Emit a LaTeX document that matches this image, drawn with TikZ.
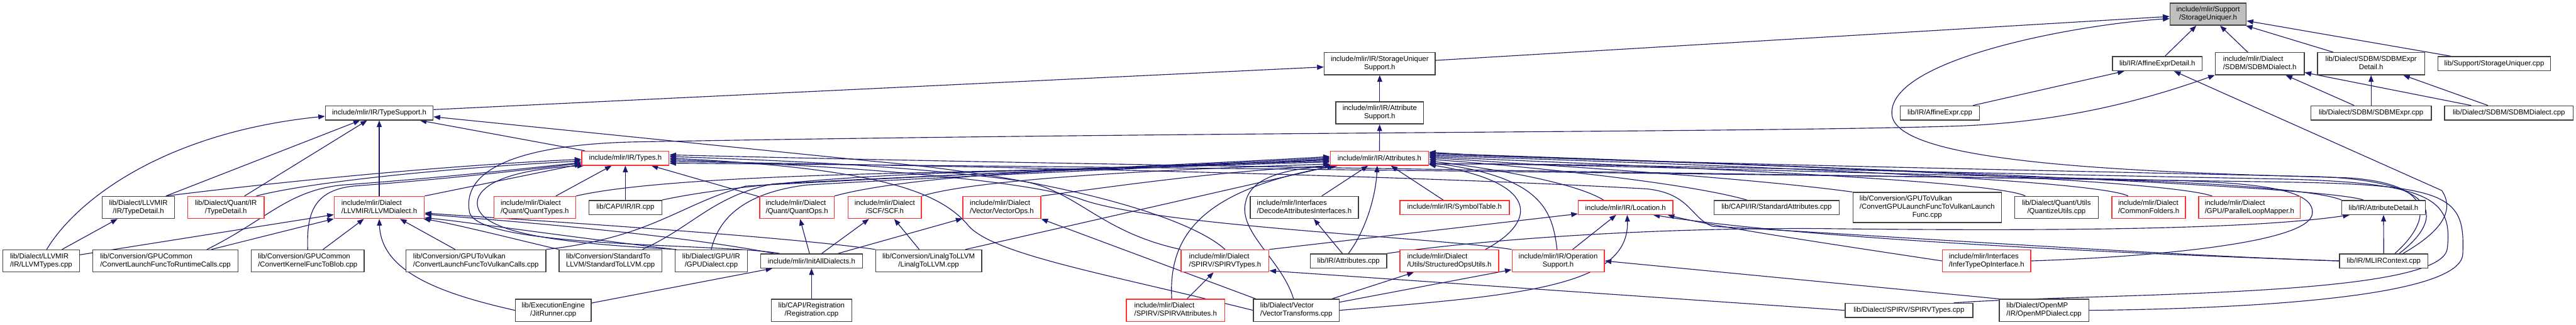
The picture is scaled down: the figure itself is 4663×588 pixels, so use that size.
\documentclass[tikz,border=0pt]{standalone}
\usepackage{fontspec}
\setmainfont{Liberation Sans}
\usetikzlibrary{arrows.meta,calc}
\pgfdeclarelayer{bg}
\pgfsetlayers{bg,main}
\definecolor{edgec}{HTML}{191970}
\definecolor{rootfill}{HTML}{BFBFBF}
\definecolor{nodeline}{HTML}{404040}
\definecolor{nodered}{HTML}{FF3030}
\newcommand{\TL}[2]{\begin{tabular}{@{}l@{}}#1\\\multicolumn{1}{@{}c@{}}{#2}\end{tabular}}
\newcommand{\TLL}[3]{\begin{tabular}{@{}l@{}}#1\\#2\\\multicolumn{1}{@{}c@{}}{#3}\end{tabular}}
\tikzset{
  nb/.style={draw=nodeline, line width=1.6pt, fill=white, inner sep=0pt, font=\fontsize{13}{15}\selectfont, minimum height=25.5pt},
  nr/.style={nb, draw=nodered},
  l2/.style={minimum height=40pt},
  l3/.style={minimum height=54.5pt},
  mw/.style={minimum width=#1pt},
  inc/.style={draw=edgec, line width=1.3pt, -{Triangle[length=12pt,width=9pt]}},
}
\begin{document}
\begin{tikzpicture}[x=1pt,y=1pt]
\useasboundingbox (0,0) rectangle (4663,-588);
% row 0
\node[nb,l2,fill=rootfill,mw=138] (su) at (3997,-25.7) {\TL{include/mlir/Support}{/StorageUniquer.h}};
% row 1
\node[nb,l2,mw=201] (sus) at (2497.5,-115.3) {\TL{include/mlir/IR/StorageUniquer}{Support.h}};
\node[nb,mw=162] (aed) at (3905,-115.3) {lib/IR/AffineExprDetail.h};
\node[nb,l2,mw=161] (sdbmh) at (4090.5,-115.3) {\TL{include/mlir/Dialect}{/SDBM/SDBMDialect.h}};
\node[nb,l2,mw=194] (sdbmed) at (4292,-115.3) {\TL{lib/Dialect/SDBM/SDBMExpr}{Detail.h}};
\node[nb,mw=204] (sucpp) at (4515,-115.3) {lib/Support/StorageUniquer.cpp};
% row 2
\node[nb,mw=195] (ts) at (686.5,-204.5) {include/mlir/IR/TypeSupport.h};
\node[nb,l2,mw=159] (as) at (2497.5,-204.5) {\TL{include/mlir/IR/Attribute}{Support.h}};
\node[nb,mw=143] (aecpp) at (3511.5,-204.5) {lib/IR/AffineExpr.cpp};
\node[nb,mw=218] (sdbmecpp) at (4292,-204.5) {lib/Dialect/SDBM/SDBMExpr.cpp};
\node[nb,mw=233] (sdbmdcpp) at (4541.5,-204.5) {lib/Dialect/SDBM/SDBMDialect.cpp};
% row 3
\node[nr,mw=158] (types) at (1132,-286.5) {include/mlir/IR/Types.h};
\node[nr,mw=178] (attrs) at (2497,-286.5) {include/mlir/IR/Attributes.h};
% row 4
\node[nb,l2,mw=131] (lltd) at (250.5,-375.7) {\TL{lib/Dialect/LLVMIR}{/IR/TypeDetail.h}};
\node[nr,l2,mw=138] (qtd) at (409,-375.7) {\TL{lib/Dialect/Quant/IR}{/TypeDetail.h}};
\node[nr,l2,mw=163] (llvmd) at (686.5,-375.7) {\TL{include/mlir/Dialect}{/LLVMIR/LLVMDialect.h}};
\node[nr,l2,mw=148] (qtypes) at (968,-375.7) {\TL{include/mlir/Dialect}{/Quant/QuantTypes.h}};
\node[nb,mw=132] (ircpp) at (1132,-375.7) {lib/CAPI/IR/IR.cpp};
\node[nr,l2,mw=135] (qops) at (1442.5,-375.7) {\TL{include/mlir/Dialect}{/Quant/QuantOps.h}};
\node[nr,l2,mw=133] (scf) at (1601.5,-375.7) {\TL{include/mlir/Dialect}{/SCF/SCF.h}};
\node[nr,l2,mw=141] (vops) at (1813.5,-375.7) {\TL{include/mlir/Dialect}{/Vector/VectorOps.h}};
\node[nb,l2,mw=196] (dai) at (2361,-375.7) {\TL{include/mlir/Interfaces}{/DecodeAttributesInterfaces.h}};
\node[nr,mw=198] (symt) at (2633,-375.7) {include/mlir/IR/SymbolTable.h};
\node[nr,mw=171] (loc) at (2942.5,-375.7) {include/mlir/IR/Location.h};
\node[nb,mw=226] (stdattr) at (3216,-375.7) {lib/CAPI/IR/StandardAttributes.cpp};
\node[nb,l3,mw=269] (cgpuvk) at (3488.5,-375.7) {\TLL{lib/Conversion/GPUToVulkan}{/ConvertGPULaunchFuncToVulkanLaunch}{Func.cpp}};
\node[nb,l2,mw=151] (qutils) at (3722.5,-375.7) {\TL{lib/Dialect/Quant/Utils}{/QuantizeUtils.cpp}};
\node[nr,l2,mw=133] (cfold) at (3889.5,-375.7) {\TL{include/mlir/Dialect}{/CommonFolders.h}};
\node[nr,l2,mw=184] (plm) at (4072,-375.7) {\TL{include/mlir/Dialect}{/GPU/ParallelLoopMapper.h}};
\node[nb,mw=151] (adet) at (4314.5,-375.7) {lib/IR/AttributeDetail.h};
% row 5
\node[nb,l2,mw=139] (lltypes) at (74.5,-472.5) {\TL{lib/Dialect/LLVMIR}{/IR/LLVMTypes.cpp}};
\node[nb,l2,mw=263] (rtcalls) at (299.5,-472.5) {\TL{lib/Conversion/GPUCommon}{/ConvertLaunchFuncToRuntimeCalls.cpp}};
\node[nb,l2,mw=204] (blob) at (557,-472.5) {\TL{lib/Conversion/GPUCommon}{/ConvertKernelFuncToBlob.cpp}};
\node[nb,l2,mw=253] (vkcalls) at (861.5,-472.5) {\TL{lib/Conversion/GPUToVulkan}{/ConvertLaunchFuncToVulkanCalls.cpp}};
\node[nb,l2,mw=186] (std2llvm) at (1105,-472.5) {\TL{lib/Conversion/StandardTo}{LLVM/StandardToLLVM.cpp}};
\node[nb,l2,mw=131] (gpud) at (1287.5,-472.5) {\TL{lib/Dialect/GPU/IR}{/GPUDialect.cpp}};
\node[nb,mw=184] (initall) at (1469,-472.5) {include/mlir/InitAllDialects.h};
\node[nb,l2,mw=192] (linalg) at (1681,-472.5) {\TL{lib/Conversion/LinalgToLLVM}{/LinalgToLLVM.cpp}};
\node[nr,l2,mw=159] (spirvt) at (2217.5,-472.5) {\TL{include/mlir/Dialect}{/SPIRV/SPIRVTypes.h}};
\node[nb,mw=138] (attrcpp) at (2441,-472.5) {lib/IR/Attributes.cpp};
\node[nr,l2,mw=179] (sops) at (2623.5,-472.5) {\TL{include/mlir/Dialect}{/Utils/StructuredOpsUtils.h}};
\node[nr,l2,mw=167] (opsup) at (2820.5,-472.5) {\TL{include/mlir/IR/Operation}{Support.h}};
\node[nr,l2,mw=160] (infer) at (3596,-472.5) {\TL{include/mlir/Interfaces}{/InferTypeOpInterface.h}};
\node[nb,mw=160] (mlirctx) at (4315,-472.5) {lib/IR/MLIRContext.cpp};
% row 6
\node[nb,l2,mw=137] (jit) at (1001.5,-562) {\TL{lib/ExecutionEngine}{/JitRunner.cpp}};
\node[nb,l2,mw=146] (reg) at (1469,-562) {\TL{lib/CAPI/Registration}{/Registration.cpp}};
\node[nr,l2,mw=178] (spirva) at (2128,-562) {\TL{include/mlir/Dialect}{/SPIRV/SPIRVAttributes.h}};
\node[nb,l2,mw=155] (vtrans) at (2346.5,-562) {\TL{lib/Dialect/Vector}{/VectorTransforms.cpp}};
\node[nb,mw=231] (spirvtcpp) at (3455.5,-562) {lib/Dialect/SPIRV/SPIRVTypes.cpp};
\node[nb,l2,mw=162] (omp) at (3700,-562) {\TL{lib/Dialect/OpenMP}{/IR/OpenMPDialect.cpp}};

\begin{pgfonlayer}{bg}
\fill[white] (0,0) rectangle (4663,-588);
% StorageUniquer.h
\draw[inc] (sus) -- (su);
\draw[inc] (aed) -- (su);
\draw[inc] (sdbmh) -- (su);
\draw[inc] (sdbmed) -- (su);
\draw[inc] (sucpp) -- (su);
\draw[inc] ($(mlirctx.north)+(20,0)$) .. controls (4380,-420) and (4440,-335) .. (4250,-322) .. controls (3900,-312) and (3440,-300) .. (3425,-210) .. controls (3410,-110) and (3750,-45) .. ($(su.west)+(0,-8)$);
% StorageUniquerSupport.h
\draw[inc] ($(ts.east)+(0,6)$) -- ($(sus.west)+(0,-6)$);
\draw[inc] (as) -- (sus);
% AffineExprDetail.h
\draw[inc] (aecpp) -- (aed);
\draw[inc] ($(mlirctx.north)+(35,0)$) .. controls (4400,-430) and (4450,-390) .. (4420,-345) -- (aed);
% SDBMDialect.h
\draw[inc] (sdbmecpp) -- (sdbmh);
\draw[inc] (sdbmdcpp) -- (sdbmh);
\draw[inc] ($(initall.north west)+(35,0)$) .. controls (1300,-440) and (870,-450) .. (850,-385) .. controls (835,-310) and (930,-262) .. (1150,-257) .. controls (2200,-238) and (3200,-240) .. (3550,-228) .. controls (3750,-220) and (3900,-175) .. (sdbmh.south west);
% SDBMExprDetail.h
\draw[inc] (sdbmecpp) -- (sdbmed);
\draw[inc] (sdbmdcpp) -- (sdbmed);
% TypeSupport.h
\draw[inc] (types) -- (ts);
\draw[inc] ($(lltd.north)+(50,0)$) -- (ts);
\draw[inc] (qtd) -- (ts);
\draw[inc] (llvmd) -- (ts);
\draw[inc] ($(lltypes.north)+(10,0)$) .. controls (140,-360) and (300,-240) .. ($(ts.west)+(0,-6)$);
\draw[inc] (spirvt.north) .. controls (2150,-390) and (1900,-320) .. (1580,-292) -- ($(ts.east)+(0,-7)$);
% AttributeSupport.h
\draw[inc] (attrs) -- (as);
% Types.h left
\draw[inc] ($(lltd.north)+(50,0)$) .. controls (500,-330) and (800,-300) .. ($(types.west)+(0,-2)$);
\draw[inc] ($(qtd.north)+(55,0)$) .. controls (560,-330) and (800,-305) .. ($(types.west)+(0,-5)$);
\draw[inc] (llvmd.north east) -- ($(types.south west)+(0,3)$);
\draw[inc] ($(rtcalls.north)+(75,0)$) .. controls (480,-400) and (520,-345) .. (620,-335) .. controls (800,-322) and (950,-305) .. ($(types.west)+(0,-8)$);
\draw[inc] (blob.north) .. controls (555,-390) and (565,-345) .. (640,-337) .. controls (800,-325) and (950,-308) .. ($(types.west)+(0,-9)$);
\draw[inc] ($(gpud.north west)+(3,0)$) .. controls (1000,-440) and (850,-420) .. (865,-360) .. controls (880,-315) and (990,-303) .. ($(types.south west)+(5,0)$);
% Types.h bottom
\draw[inc] (qtypes) -- (types);
\draw[inc] (ircpp) -- (types);
\draw[inc] (qops) -- (types);
% Types.h right
\draw[inc] (spirvt.north west) .. controls (1990,-420) and (1950,-345) .. (1850,-328) .. controls (1650,-300) and (1400,-290) .. ($(types.east)+(0,3)$);
\draw[inc] (vtrans.west) .. controls (2000,-495) and (1790,-460) .. (1750,-405) .. controls (1700,-350) and (1600,-305) .. (types.east);
\draw[inc] (opsup.north west) .. controls (2600,-430) and (2100,-410) .. (1960,-362) .. controls (1860,-325) and (1500,-298) .. ($(types.east)+(0,-3)$);
\draw[inc] (adet.north west) .. controls (4200,-345) and (4000,-330) .. (3800,-325) .. controls (3000,-312) and (2000,-300) .. ($(types.east)+(0,6)$);
\draw[inc] (mlirctx.west) .. controls (3900,-462) and (3300,-420) .. (3100,-410) .. controls (3060,-395) and (3060,-350) .. (2980,-342) .. controls (2500,-315) and (1700,-300) .. ($(types.east)+(0,-6)$);
\draw[inc] (omp.east) .. controls (4000,-560) and (4455,-545) .. (4458,-460) .. controls (4462,-360) and (4440,-335) .. (4150,-330) .. controls (3200,-315) and (2000,-302) .. ($(types.east)+(0,-9)$);
% Attributes.h left
\draw[inc] (vkcalls.north east) .. controls (1180,-430) and (1230,-370) .. (1350,-337) .. controls (1800,-312) and (2200,-296) .. ($(attrs.west)+(0,3)$);
\draw[inc] ($(std2llvm.north)+(58,0)$) .. controls (1255,-410) and (1290,-355) .. (1400,-333) .. controls (1800,-312) and (2200,-298) .. ($(attrs.west)+(0,1)$);
\draw[inc] (gpud.north) .. controls (1300,-400) and (1340,-350) .. (1460,-335) .. controls (1800,-315) and (2200,-300) .. ($(attrs.west)+(0,-1)$);
\draw[inc] (qtypes.north east) .. controls (1150,-330) and (1400,-318) .. (1700,-312) .. controls (2000,-305) and (2250,-296) .. ($(attrs.west)+(0,-3)$);
\draw[inc] (ircpp.north east) .. controls (1300,-340) and (1500,-320) .. (1750,-312) .. controls (2050,-303) and (2250,-296) .. ($(attrs.west)+(0,-5)$);
\draw[inc] (qops.north east) .. controls (1600,-330) and (1800,-312) .. (2000,-306) .. controls (2200,-300) and (2300,-296) .. ($(attrs.west)+(0,-7)$);
\draw[inc] (scf.north east) .. controls (1750,-330) and (2000,-310) .. ($(attrs.south west)+(0,3)$);
\draw[inc] (vops.north east) .. controls (2000,-340) and (2200,-310) .. ($(attrs.south west)+(3,0)$);
\draw[inc] ($(linalg.north east)+(-30,0)$) -- ($(attrs.south west)+(7,0)$);
\draw[inc] ($(spirva.north)+(-7,0)$) .. controls (2115,-430) and (2170,-345) .. ($(attrs.south west)+(11,0)$);
\draw[inc] ($(vtrans.north)+(-5,0)$) .. controls (2320,-470) and (2240,-420) .. (2255,-365) .. controls (2265,-320) and (2330,-305) .. ($(attrs.south west)+(15,0)$);
% Attributes.h bottom
\draw[inc] (dai) -- (attrs);
\draw[inc] (attrcpp.north) .. controls (2470,-420) and (2490,-360) .. ($(attrs.south)+(-4,0)$);
\draw[inc] (symt) -- (attrs);
% Attributes.h right
\draw[inc] ($(sops.north east)+(-25,0)$) .. controls (2785,-400) and (2785,-330) .. ($(attrs.south east)+(0,2)$);
\draw[inc] ($(opsup.north)+(-2,0)$) .. controls (2810,-380) and (2790,-320) .. ($(attrs.east)+(0,-8)$);
\draw[inc] ($(loc.north)+(-40,0)$) .. controls (2850,-330) and (2700,-305) .. ($(attrs.east)+(0,-5)$);
\draw[inc] ($(stdattr.north west)+(60,0)$) .. controls (3050,-330) and (2750,-300) .. ($(attrs.east)+(0,-2)$);
\draw[inc] (cgpuvk.north west) .. controls (3150,-320) and (2750,-296) .. ($(attrs.east)+(0,1)$);
\draw[inc] ($(qutils.north west)+(20,0)$) .. controls (3600,-322) and (2800,-294) .. ($(attrs.east)+(0,3)$);
\draw[inc] ($(cfold.north west)+(30,0)$) .. controls (3780,-320) and (2900,-292) .. ($(attrs.east)+(0,5)$);
\draw[inc] ($(plm.north west)+(25,0)$) .. controls (3900,-320) and (3000,-292) .. ($(attrs.east)+(0,7)$);
\draw[inc] ($(adet.north west)+(40,0)$) .. controls (4200,-335) and (3200,-298) .. ($(attrs.east)+(0,9)$);
\draw[inc] ($(mlirctx.north)+(28,0)$) .. controls (4420,-400) and (4430,-330) .. (4200,-320) .. controls (3300,-300) and (2800,-290) .. ($(attrs.east)+(0,11)$);
\draw[inc] (infer.east) .. controls (3900,-465) and (4170,-440) .. (4185,-390) .. controls (4195,-345) and (4100,-330) .. (3900,-326) .. controls (3300,-312) and (2800,-296) .. ($(attrs.east)+(0,-10)$);
\draw[inc] ($(spirvtcpp.north east)+(-35,0)$) .. controls (3800,-530) and (4420,-540) .. (4430,-450) .. controls (4440,-360) and (4400,-330) .. (4120,-324) .. controls (3300,-308) and (2800,-294) .. ($(attrs.east)+(0,-11)$);
% Location.h
\draw[inc] (opsup) -- (loc);
\draw[inc] (vtrans.east) .. controls (2750,-535) and (2950,-520) .. ($(loc.south)+(3,0)$);
\draw[inc] (mlirctx.west) .. controls (3800,-458) and (3250,-430) .. ($(loc.south)+(50,0)$);
\draw[inc] (infer.west) .. controls (3300,-440) and (3100,-410) .. ($(loc.south east)+(-10,0)$);
\draw[inc] (spirvt.north east) -- ($(loc.south west)+(0,2)$);
% OperationSupport.h
\draw[inc] (vtrans) -- (opsup);
\draw[inc] (omp.north west) -- (opsup.east);
% StructuredOpsUtils.h
\draw[inc] (vtrans) -- (sops);
% VectorOps.h
\draw[inc] ($(vtrans.north west)+(5,0)$) -- (vops.south east);
\draw[inc] (initall) -- (vops);
% SCF.h
\draw[inc] (initall) -- (scf);
\draw[inc] (linalg) -- (scf);
% QuantOps.h
\draw[inc] (initall) -- (qops);
% InitAllDialects.h
\draw[inc] (reg) -- (initall);
\draw[inc] (jit) -- (initall);
% LLVMDialect.h
\draw[inc] (lltypes) -- (llvmd);
\draw[inc] (rtcalls) -- (llvmd);
\draw[inc] (blob) -- (llvmd);
\draw[inc] (jit.west) .. controls (790,-530) and (690,-490) .. (llvmd.south);
\draw[inc] (vkcalls) -- (llvmd);
\draw[inc] (std2llvm.north west) .. controls (920,-430) and (820,-405) .. ($(llvmd.south east)+(-2,0)$);
\draw[inc] (gpud.north west) .. controls (1000,-425) and (830,-400) .. ($(llvmd.south east)+(0,2)$);
\draw[inc] ($(initall.north west)+(25,0)$) .. controls (1200,-420) and (850,-395) .. ($(llvmd.east)+(0,-12)$);
\draw[inc] (linalg.north west) .. controls (1400,-425) and (850,-392) .. ($(llvmd.east)+(0,-10)$);
% LLVMIR TypeDetail.h
\draw[inc] (lltypes) -- (lltd);
% SPIRVTypes.h
\draw[inc] (spirva) -- (spirvt);
\draw[inc] (spirvtcpp.west) -- ($(spirvt.south east)+(0,3)$);
% DecodeAttributesInterfaces.h
\draw[inc] (attrcpp) -- (dai);
% AttributeDetail.h
\draw[inc] (attrcpp.north east) .. controls (2700,-432) and (3000,-412) .. (3300,-414) .. controls (3800,-420) and (4100,-412) .. ($(adet.south west)+(15,0)$);
\draw[inc] (mlirctx) -- (adet);
\end{pgfonlayer}
\end{tikzpicture}
\end{document}
